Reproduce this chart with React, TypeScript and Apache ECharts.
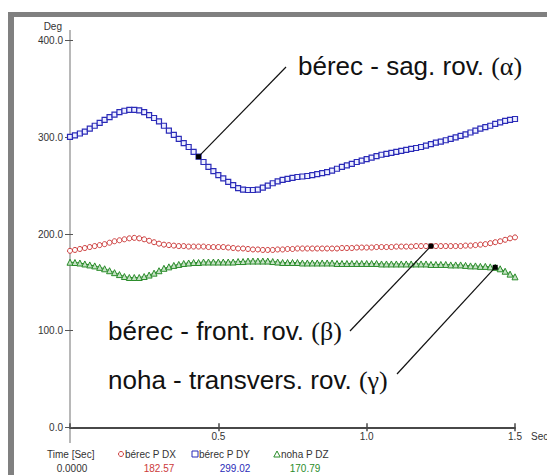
import React, { useEffect, useRef } from 'react';
import * as echarts from 'echarts';

// sampling rate of the recording (samples per second)
const SAMPLE_HZ = 60;
const X_MAX = 1.5;
const Y_MAX = 400;

// bérec P DX (front. rov. β) – red circles
const berecDX = [
  182.6, 183.5, 184.5, 185.5, 186.5, 187.5, 188.5, 189.5, 191, 192.5,
  193.5, 194.5, 195.5, 196, 195.5, 194.5, 193, 191.5, 190, 189,
  188.5, 188, 187.5, 187.5, 187, 187, 187, 187, 186.5, 186.5,
  186.5, 186.5, 186, 185.5, 185, 185, 184.5, 184, 184, 183.5,
  183.5, 183.5, 184, 184, 184.5, 184.5, 185, 185, 185, 185,
  185, 185, 185, 185, 185, 185.5, 185.5, 185.5, 186, 186,
  186, 186, 186.5, 186.5, 186.5, 186.5, 187, 187, 187, 187,
  187.5, 187.5, 187.5, 187.5, 187.5, 187.5, 187.5, 187.5, 187.5, 187.5,
  188, 188, 188.5, 189, 189.5, 190.5, 191.5, 192.5, 194, 195.5,
  196.5,
];

// bérec P DY (sag. rov. α) – blue squares
const berecDY = [
  300.5, 302, 304, 306, 309, 312, 315, 318, 321, 323.5,
  326, 327.5, 328.5, 328.5, 328, 326, 323, 320, 316.5, 312,
  307, 302.5, 298.5, 294, 290, 285, 280, 274.5, 269.5, 265,
  261, 257.5, 254, 250.5, 247.5, 246, 245.5, 245.5, 246, 248,
  250, 252.5, 254.5, 256, 257, 258, 259, 259.5, 260, 261,
  262, 263, 264, 265.5, 267.5, 269.5, 271, 272.5, 274.5, 276,
  277.5, 279, 280.5, 282, 283, 284, 285, 286, 287, 288,
  289, 290, 291.5, 293, 294.5, 295.5, 297, 298.5, 300, 301.5,
  303, 305, 307, 309, 310.5, 312, 314, 315.5, 317, 318,
  319,
];

// noha P DZ (transvers. rov. γ) – green triangles
const nohaDZ = [
  170.8, 170.5, 170, 169, 168, 167, 165.5, 164, 162, 160,
  158, 156, 155, 155, 155, 156, 157.5, 159.5, 162, 164.5,
  166, 167.5, 168.5, 169.5, 170, 170.5, 170.5, 171, 171, 171,
  171, 171, 171, 171, 171.5, 171.5, 172, 172, 172, 172,
  172, 171.5, 171, 170.5, 170.5, 170.5, 170.5, 170, 170, 170,
  170, 170, 170, 170, 169.5, 169.5, 169.5, 169.5, 169.5, 169.5,
  169.5, 169.5, 169.5, 169, 169, 169, 169, 169, 169, 169,
  169, 169, 169, 168.5, 168.5, 168.5, 168.5, 168, 168, 168,
  167.5, 167, 167, 166.5, 166.5, 166, 165.5, 164, 161.5, 158.5,
  155.7,
];

const seriesNames = ['bérec P DX', 'bérec P DY', 'noha P DZ'];
const cursorValues = ['182.57', '299.02', '170.79'];
const cursorTime = '0.0000';
const seriesColors = ['#cc3a3a', '#2b2bb8', '#2a8c2a'];

// annotation: label, greek part, sample index pointed at, series index
const annotationLabels = ['bérec - sag. rov. ', 'bérec - front. rov. ', 'noha - transvers. rov. '];
const annotationGreek = ['(α)', '(β)', '(γ)'];
const annotationSeries = [1, 0, 2];
const annotationSample = [26, 73, 86];

const allSeries = [berecDX, berecDY, nohaDZ];
const toPairs = (arr: number[]) => arr.map((v, i) => [i / SAMPLE_HZ, v]);

export default function App() {
  const ref = useRef<HTMLDivElement>(null);
  useEffect(() => {
    if (!ref.current) return;
    const chart = echarts.init(ref.current, undefined, { renderer: 'svg' });
    const txt = { fontFamily: 'Liberation Sans, Arial, sans-serif', fontSize: 10, color: '#333' };
    chart.setOption({
      animation: false,
      backgroundColor: '#ffffff',
      grid: { left: 70, right: 32, top: 40.7, bottom: 47.7, containLabel: false },
      xAxis: [
        {
          type: 'value', min: 0, max: X_MAX, interval: 0.5,
          axisLine: { show: true, lineStyle: { color: '#484848', width: 2 } },
          axisTick: { show: true, length: 4, lineStyle: { color: '#484848', width: 1.5 } },
          axisLabel: { ...txt, showMinLabel: false, margin: 4, formatter: (v: number) => v.toFixed(1) },
          splitLine: { show: false },
        },
        {
          type: 'value', min: 0, max: X_MAX, interval: 0.5, position: 'bottom',
          axisLine: { show: false },
          axisTick: { show: true, inside: true, length: 4, lineStyle: { color: '#484848', width: 1.5 } },
          axisLabel: { show: false },
          splitLine: { show: false },
        },
      ],
      yAxis: [
        {
          type: 'value', min: 0, max: Y_MAX, interval: 100,
          axisLine: { show: false },
          axisTick: { show: true, length: 5, lineStyle: { color: '#555' } },
          axisLabel: { ...txt, margin: 7, formatter: (v: number) => v.toFixed(1) },
          splitLine: { show: false },
        },
        {
          type: 'value', min: 0, max: Y_MAX, interval: 100, position: 'left',
          axisLine: { show: false },
          axisTick: { show: true, inside: true, length: 3, lineStyle: { color: '#555' } },
          axisLabel: { show: false },
          splitLine: { show: false },
        },
      ],
      series: [
        {
          name: seriesNames[0], type: 'line', data: toPairs(berecDX), xAxisIndex: 0,
          symbol: 'circle', symbolSize: 5, showAllSymbol: true,
          lineStyle: { color: '#e08a8a', width: 1 },
          itemStyle: { color: '#ffffff', borderColor: seriesColors[0], borderWidth: 1 },
        },
        {
          name: seriesNames[1], type: 'line', data: toPairs(berecDY), xAxisIndex: 0,
          symbol: 'rect', symbolSize: 5, showAllSymbol: true,
          lineStyle: { color: '#2b2bb8', width: 1 },
          itemStyle: { color: '#eef0ff', borderColor: seriesColors[1], borderWidth: 1.2 },
        },
        {
          name: seriesNames[2], type: 'line', data: toPairs(nohaDZ), xAxisIndex: 0,
          symbol: 'triangle', symbolSize: 6, showAllSymbol: true,
          lineStyle: { color: '#2a8c2a', width: 1 },
          itemStyle: { color: '#c6e2c6', borderColor: seriesColors[2], borderWidth: 1 },
        },
      ],
    });

    // leader lines anchored at data points
    const labelPos = [
      { x: 298, y: 66, lx: 286, ly: 67 },
      { x: 108, y: 331, lx: 350, ly: 331 },
      { x: 108, y: 380, lx: 397, ly: 374 },
    ];
    const graphics: any[] = [
      { type: 'rect', shape: { x: 8, y: 12, width: 539, height: 5 }, style: { fill: '#808080' }, silent: true },
      { type: 'rect', shape: { x: 8, y: 12, width: 6, height: 463 }, style: { fill: '#808080' }, silent: true },
      { type: 'line', shape: { x1: 70, y1: 30, x2: 70, y2: 443 }, style: { stroke: '#b8b8b8', lineWidth: 2 }, z: 0 },
      { type: 'text', x: 62, y: 26, style: { text: 'Deg', ...txtG(), textAlign: 'right', textVerticalAlign: 'middle' } },
      { type: 'text', x: 531, y: 436, style: { text: 'Sec', ...txtG(), textAlign: 'left', textVerticalAlign: 'middle' } },
      { type: 'text', x: 47, y: 454, style: { text: 'Time [Sec]', ...txtG(), textAlign: 'left', textVerticalAlign: 'middle' } },
      { type: 'text', x: 72, y: 468, style: { text: cursorTime, ...txtG(), textAlign: 'center', textVerticalAlign: 'middle' } },
    ];
    const legendX = [125, 199, 281];
    const valueX = [159, 235, 305];
    seriesNames.forEach((n, i) => {
      const sx = legendX[i] - 4;
      if (i === 0) graphics.push({ type: 'circle', shape: { cx: sx, cy: 454, r: 2.5 }, style: { fill: '#fff', stroke: seriesColors[0], lineWidth: 1 } });
      if (i === 1) graphics.push({ type: 'rect', shape: { x: sx - 3, y: 451, width: 6, height: 6 }, style: { fill: '#fff', stroke: seriesColors[1], lineWidth: 1 } });
      if (i === 2) graphics.push({ type: 'polygon', shape: { points: [[sx, 451], [sx + 3.2, 457], [sx - 3.2, 457]] }, style: { fill: '#fff', stroke: seriesColors[2], lineWidth: 1 } });
      graphics.push({ type: 'text', x: legendX[i], y: 454, style: { text: n, ...txtG(), textAlign: 'left', textVerticalAlign: 'middle' } });
      graphics.push({ type: 'text', x: valueX[i], y: 468, style: { text: cursorValues[i], ...txtG(), fill: seriesColors[i], textAlign: 'center', textVerticalAlign: 'middle' } });
    });
    annotationLabels.forEach((lab, i) => {
      const s = annotationSeries[i];
      const k = annotationSample[i];
      const p = chart.convertToPixel({ gridIndex: 0 }, [k / SAMPLE_HZ, allSeries[s][k]]) as number[];
      const L = labelPos[i];
      graphics.push({ type: 'line', shape: { x1: p[0], y1: p[1], x2: L.lx, y2: L.ly }, style: { stroke: '#111', lineWidth: 1.2 }, z: 10 });
      graphics.push({ type: 'rect', shape: { x: p[0] - 2.5, y: p[1] - 2.5, width: 5, height: 5 }, style: { fill: '#000' }, z: 11 });
      graphics.push({
        type: 'text', x: L.x, y: L.y, z: 12,
        style: {
          text: `{a|${lab}}{g|${annotationGreek[i]}}`,
          textVerticalAlign: 'middle',
          rich: {
            a: { fontSize: 26, fontFamily: 'Liberation Sans, Arial, sans-serif', fill: '#111' },
            g: { fontSize: 26, fontFamily: 'Liberation Serif, Times New Roman, serif', fill: '#111' },
          },
        },
      });
    });
    chart.setOption({ graphic: { elements: graphics } });

    function txtG() {
      return { fontFamily: 'Liberation Sans, Arial, sans-serif', fontSize: 10, fill: '#333' };
    }
    return () => chart.dispose();
  }, []);
  return <div ref={ref} style={{ position: 'fixed', left: 0, top: 0, width: 547, height: 475 }} />;
}
